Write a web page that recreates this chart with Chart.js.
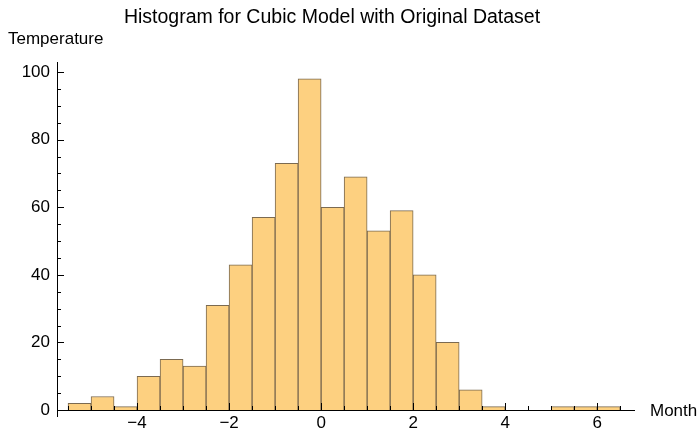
<!DOCTYPE html>
<html>
<head>
<meta charset="utf-8">
<script src="https://cdn.jsdelivr.net/npm/chart.js@4"></script>
<style>
  html, body { margin: 0; padding: 0; background: #fff; }
  #wrap { width: 699px; height: 430px; }
</style>
</head>
<body>
<div id="wrap"><canvas id="histChart" width="699" height="430"></canvas></div>
<script>
// bin centres (width 0.5) and counts
const binCenters = [-5.25, -4.75, -4.25, -3.75, -3.25, -2.75, -2.25, -1.75, -1.25, -0.75, -0.25,
                    0.25, 0.75, 1.25, 1.75, 2.25, 2.75, 3.25, 3.75, 4.25, 4.75, 5.25, 5.75, 6.25];
const counts = [2, 4, 1, 10, 15, 13, 31, 43, 57, 73, 98,
                60, 69, 53, 59, 40, 20, 6, 1, 0, 0, 1, 1, 1];
const xMajorTicks = [-4, -2, 0, 2, 4, 6];
const yMajorTicks = [0, 20, 40, 60, 80, 100];
const xMinorStep = 0.5;
const yMinorStep = 5;

const titleText = 'Histogram for Cubic Model with Original Dataset';
const yLabel = 'Temperature';
const xLabel = 'Month';

const FONT = '"Liberation Sans", Arial, sans-serif';

// draws inward ticks and the text labels
const framePlugin = {
  id: 'frame',
  afterDraw(chart) {
    const ctx = chart.ctx;
    const xs = chart.scales.x, ys = chart.scales.y;
    const area = chart.chartArea;
    ctx.save();
    ctx.strokeStyle = '#000';
    ctx.lineWidth = 1;
    // x ticks
    for (let v = Math.ceil(xs.min / xMinorStep) * xMinorStep; v <= xs.max; v += xMinorStep) {
      const px = Math.round(xs.getPixelForValue(v)) + 0.5;
      const len = xMajorTicks.includes(v) ? 7 : 4;
      ctx.beginPath();
      ctx.moveTo(px, area.bottom);
      ctx.lineTo(px, area.bottom - len);
      ctx.stroke();
    }
    // y ticks
    for (let v = 0; v <= ys.max; v += yMinorStep) {
      const py = Math.round(ys.getPixelForValue(v)) + 0.5;
      const len = yMajorTicks.includes(v) ? 7 : 4;
      ctx.beginPath();
      ctx.moveTo(area.left, py);
      ctx.lineTo(area.left + len, py);
      ctx.stroke();
    }
    // y axis runs slightly below the x axis
    ctx.beginPath();
    ctx.moveTo(area.left + 0.5, area.bottom);
    ctx.lineTo(area.left + 0.5, area.bottom + 7);
    ctx.stroke();
    // texts
    ctx.fillStyle = '#000';
    ctx.textBaseline = 'middle';
    ctx.font = '19.5px ' + FONT;
    ctx.textAlign = 'center';
    ctx.fillText(titleText, 332, 18);
    ctx.font = '17px ' + FONT;
    ctx.textAlign = 'left';
    ctx.fillText(yLabel, 8, 39);
    ctx.fillText(xLabel, 650, 411);
    ctx.restore();
  }
};

new Chart(document.getElementById('histChart'), {
  type: 'bar',
  data: {
    datasets: [{
      data: binCenters.map((c, i) => ({ x: c, y: counts[i] })),
      backgroundColor: 'rgb(253, 208, 128)',
      borderColor: 'rgba(100, 80, 50, 0.85)',
      borderWidth: 1,
      barPercentage: 1,
      categoryPercentage: 1
    }]
  },
  options: {
    responsive: false,
    animation: false,
    layout: { padding: { left: 0, top: 62, right: 65, bottom: 0 } },
    plugins: {
      legend: { display: false },
      tooltip: { enabled: false },
      title: { display: false }
    },
    scales: {
      x: {
        type: 'linear',
        offset: false,
        min: -5.74,
        max: 6.8,
        grid: { display: false, drawTicks: false },
        border: { display: true, color: '#000', width: 1 },
        afterBuildTicks: scale => { scale.ticks = xMajorTicks.map(v => ({ value: v })); },
        afterFit: scale => { scale.height = 20; },
        ticks: {
          autoSkip: false,
          maxRotation: 0,
          padding: 3,
          color: '#000',
          font: { family: FONT, size: 17 },
          callback: v => String(v).replace('-', '\u2212')
        }
      },
      y: {
        min: 0,
        max: 103,
        grid: { display: false, drawTicks: false },
        border: { display: true, color: '#000', width: 1 },
        afterBuildTicks: scale => { scale.ticks = yMajorTicks.map(v => ({ value: v })); },
        afterFit: scale => { scale.width = 57; },
        ticks: {
          padding: 7,
          color: '#000',
          font: { family: FONT, size: 17 }
        }
      }
    }
  },
  plugins: [framePlugin]
});
</script>
</body>
</html>
